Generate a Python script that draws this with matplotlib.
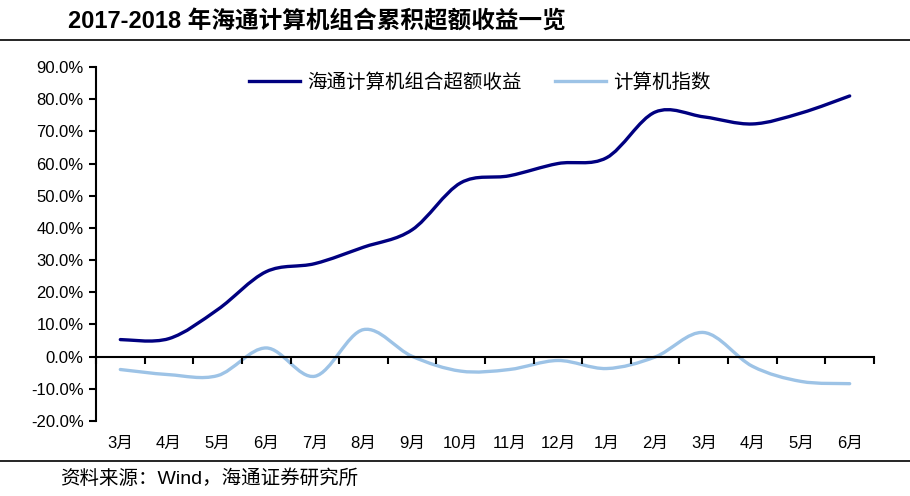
import matplotlib
matplotlib.use("Agg")
import matplotlib.pyplot as plt
from matplotlib.path import Path
from matplotlib.patches import PathPatch
from matplotlib.lines import Line2D

plt.rcParams['font.family'] = ['Liberation Sans', 'Noto Sans CJK SC']

# month labels (Mar 2017 - Jun 2018)
months = ["3月", "4月", "5月", "6月", "7月", "8月", "9月", "10月", "11月",
          "12月", "1月", "2月", "3月", "4月", "5月", "6月"]

# cumulative excess return of the portfolio, %
portfolio = [5.3, 5.6, 14.6, 26.4, 28.9, 34.0, 39.4, 54.0, 56.2,
             60.0, 61.8, 76.0, 74.5, 72.3, 75.7, 81.0]

# computer index, %
index = [-4.0, -5.6, -5.9, 2.7, -6.1, 8.4, 0.1, -4.5, -4.0,
         -1.2, -3.7, -0.1, 7.5, -3.0, -7.7, -8.4]

yticks = [-20, -10, 0, 10, 20, 30, 40, 50, 60, 70, 80, 90]


# Excel-like smoothed line: cubic bezier between each pair of points
def smooth_path(xs, ys):
    pts = list(zip(xs, ys))
    n = len(pts)
    verts = [pts[0]]
    codes = [Path.MOVETO]
    for i in range(n - 1):
        p0 = pts[i - 1] if i > 0 else pts[i]
        p1 = pts[i]
        p2 = pts[i + 1]
        p3 = pts[i + 2] if i + 2 < n else pts[i + 1]
        c1 = (p1[0] + (p2[0] - p0[0]) / 6, p1[1] + (p2[1] - p0[1]) / 6)
        c2 = (p2[0] - (p3[0] - p1[0]) / 6, p2[1] - (p3[1] - p1[1]) / 6)
        verts += [c1, c2, p2]
        codes += [Path.CURVE4] * 3
    return Path(verts, codes)


fig = plt.figure(figsize=(9.1, 4.96), dpi=100)
ax = fig.add_axes([96 / 910, 75 / 496, 778 / 910, 354 / 496])

x = list(range(len(months)))
dark = "#000080"
light = "#9DC3E6"

ax.add_patch(PathPatch(smooth_path(x, index), facecolor="none",
                       edgecolor=light, lw=2.4, capstyle="round"))
ax.add_patch(PathPatch(smooth_path(x, portfolio), facecolor="none",
                       edgecolor=dark, lw=2.4, capstyle="round"))

ax.set_xlim(-0.5, len(months) - 0.5)
ax.set_ylim(-20, 90)
ax.set_yticks(yticks)
ax.set_yticklabels(["%.1f%%" % v for v in yticks], fontsize=12)
ax.tick_params(axis="y", length=5, width=1.5, pad=4)

for s in ["top", "right"]:
    ax.spines[s].set_visible(False)
ax.spines["left"].set_linewidth(1.5)
ax.spines["bottom"].set_position(("data", 0))
ax.spines["bottom"].set_linewidth(1.5)
ax.set_xticks([i - 0.5 for i in range(len(months) + 1)])
ax.set_xticklabels([])
ax.tick_params(axis="x", length=5, width=1.5)

sec = ax.secondary_xaxis(0)
sec.set_xticks(x)
sec.set_xticklabels(months, fontsize=12)
sec.tick_params(length=0, pad=11)
sec.spines["bottom"].set_visible(False)

handles = [Line2D([], [], color=dark, lw=2.4),
           Line2D([], [], color=light, lw=2.4)]
ax.legend(handles, ["海通计算机组合超额收益", "计算机指数"], loc="upper left",
          bbox_to_anchor=(136 / 778, 1.031), ncol=2, frameon=False,
          fontsize=14, handlelength=2.6, handletextpad=0.35, columnspacing=1.75)

fig.text(68 / 910, 1 - 21 / 496, "2017-2018 年海通计算机组合累积超额收益一览",
         fontsize=17, fontweight="bold", va="center", ha="left")
fig.add_artist(Line2D([0, 1], [1 - 40 / 496, 1 - 40 / 496], color="black", lw=1.2))
fig.add_artist(Line2D([0, 1], [1 - 461 / 496, 1 - 461 / 496], color="black", lw=1.2))
fig.text(60 / 910, 1 - 479 / 496, "资料来源：Wind，海通证券研究所",
         fontsize=14, va="center", ha="left")

fig.savefig("out.png", dpi=100)
